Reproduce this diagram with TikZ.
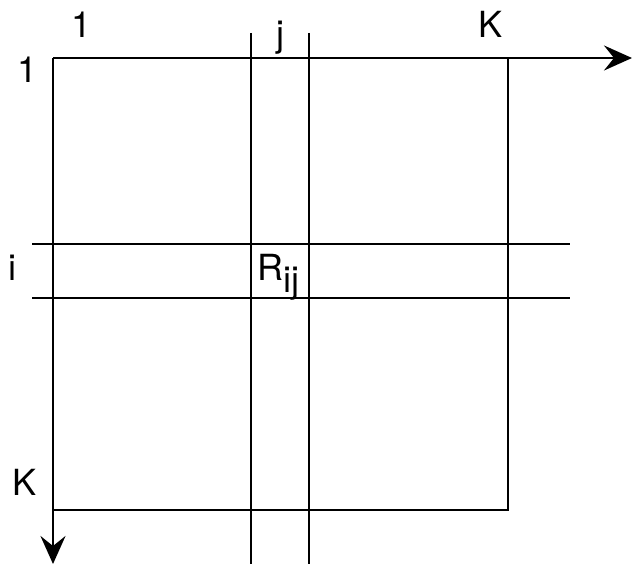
\documentclass[tikz,border=0pt]{standalone}
\usepackage{fontspec}
\setmainfont{TeX Gyre Heros}
\usetikzlibrary{arrows.meta, positioning}

\begin{document}
\begin{tikzpicture}[
  x=1pt, y=-1pt,
  every node/.style={font=\fontsize{36}{36}\selectfont, inner sep=0pt},
  gridline/.style={line width=2.6pt},
  axisline/.style={line width=2.6pt, -{Stealth[length=28pt, width=25pt, inset=10pt]}},
]
\useasboundingbox (0,0) rectangle (632,564);

% corners of the matrix
\coordinate (o) at (53,58);
\coordinate (tr) at (508,58);
\coordinate (bl) at (53,510);
\coordinate (br) at (508,510);
\coordinate (xend) at (632,58);
\coordinate (yend) at (53,564);

% column j and row i
\coordinate (cjl1) at (251,33);  \coordinate (cjl2) at (251,564);
\coordinate (cjr1) at (309,33);  \coordinate (cjr2) at (309,564);
\coordinate (rit1) at (32,244);  \coordinate (rit2) at (570,244);
\coordinate (rib1) at (32,298);  \coordinate (rib2) at (570,298);

\draw[gridline] (tr) -- (br) -- (bl);
\draw[gridline] (cjl1) -- (cjl2);
\draw[gridline] (cjr1) -- (cjr2);
\draw[gridline] (rit1) -- (rit2);
\draw[gridline] (rib1) -- (rib2);
\draw[axisline] (o) -- (xend);
\draw[axisline] (o) -- (yend);

% labels
\node (col1) at (82,25) {1};
\node (colj) at (280,38) {j};
\node (colK) at (491,24) {K};
\node (row1) at (28,70) {1};
\node (rowi) at (12,268) {i};
\node (rowK) at (25,482) {K};
\node[anchor=base west] (rij) at (257,280) {R\raisebox{-12pt}{ij}};
\end{tikzpicture}
\end{document}
